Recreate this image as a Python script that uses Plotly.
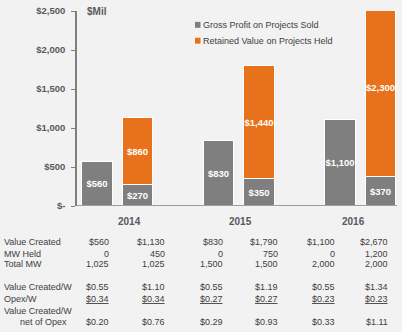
import plotly.graph_objects as go

years = ["2014", "2015", "2016"]
gross_sold = [560, 830, 1100]
gross_held = [270, 350, 370]
retained = [860, 1440, 2300]

y_ticks = [0, 500, 1000, 1500, 2000, 2500]
y_tick_labels = ["$-", "$500", "$1,000", "$1,500", "$2,000", "$2,500"]

row_labels = ["Value Created", "MW Held", "Total MW", "Value Created/W", "Opex/W", "Value Created/W", "net of Opex"]
value_created = ["$560", "$1,130", "$830", "$1,790", "$1,100", "$2,670"]
mw_held = ["0", "450", "0", "750", "0", "1,200"]
total_mw = ["1,025", "1,025", "1,500", "1,500", "2,000", "2,000"]
vc_per_w = ["$0.55", "$1.10", "$0.55", "$1.19", "$0.55", "$1.34"]
opex_per_w = ["$0.34", "$0.34", "$0.27", "$0.27", "$0.23", "$0.23"]
net_of_opex = ["$0.20", "$0.76", "$0.29", "$0.93", "$0.33", "$1.11"]

GRAY = "#7f7f7f"
ORANGE = "#e8711c"
TXT = "#404040"
FONT = "Liberation Sans, Arial, sans-serif"

W, H = 402, 332
L, R, T, B = 77, 5, 9, 126
PW = W - L - R
PH = H - T - B

def px_x(px):
    return (px - L) / PW

def px_y(py):
    return (H - B - py) / PH

gx = [3 * i for i in range(len(years))]
x_sold = [g - 0.5 for g in gx]
x_held = [g + 0.5 for g in gx]

def money(v):
    return "$" + format(v, ",")

label_font = dict(color="white", size=9.5, family=FONT, weight="bold")

fig = go.Figure()
fig.add_trace(go.Bar(
    x=x_sold, y=gross_sold, name="Gross Profit on Projects Sold",
    marker=dict(color=GRAY, line=dict(color="white", width=1)), width=0.76,
    text=[money(v) for v in gross_sold], textposition="inside", insidetextanchor="middle",
    textfont=label_font, constraintext="none", textangle=0,
))
fig.add_trace(go.Bar(
    x=x_held, y=gross_held, name="Gross Profit on Projects Sold",
    marker=dict(color=GRAY, line=dict(color="white", width=1)), width=0.76,
    text=[money(v) for v in gross_held], textposition="inside", insidetextanchor="middle",
    textfont=label_font, constraintext="none", textangle=0,
))
fig.add_trace(go.Bar(
    x=x_held, y=retained, name="Retained Value on Projects Held",
    marker=dict(color=ORANGE, line=dict(color="white", width=1)), width=0.76,
    text=[money(v) for v in retained], textposition="inside", insidetextanchor="middle",
    textfont=label_font, constraintext="none", textangle=0,
))

fig.update_layout(
    width=W, height=H, margin=dict(l=L, r=R, t=T, b=B),
    paper_bgcolor="#f2f2f2", plot_bgcolor="#f2f2f2",
    barmode="stack", bargap=0,
    font=dict(family=FONT, color=TXT, size=9),
    showlegend=False,
    xaxis=dict(range=[-1.006, 6.895], showgrid=False, zeroline=False,
               showline=False, showticklabels=False, fixedrange=True),
    yaxis=dict(range=[0, 2500], tickvals=y_ticks,
               ticktext=["<b>" + t + "</b>" for t in y_tick_labels],
               showgrid=False, zeroline=False, showline=True, linecolor=GRAY, linewidth=1.5,
               ticks="outside", ticklen=4, tickcolor=GRAY,
               tickfont=dict(size=9.5, color="#595959"), ticklabelstandoff=4),
)

# x-axis baseline
fig.add_shape(type="line", xref="paper", yref="y", x0=0, x1=1, y0=0, y1=0,
              line=dict(color=GRAY, width=1.5))

# legend (drawn)
legend_items = [("Gross Profit on Projects Sold", GRAY), ("Retained Value on Projects Held", ORANGE)]
for k, (name, col) in enumerate(legend_items):
    cy = 23 + 16 * k
    fig.add_shape(type="rect", xref="paper", yref="paper",
                  x0=px_x(195), x1=px_x(200.5), y0=px_y(cy - 3), y1=px_y(cy + 3),
                  fillcolor=col, line=dict(width=0))
    fig.add_annotation(text=name, xref="paper", yref="paper", x=px_x(201), y=px_y(cy),
                       xanchor="left", yanchor="middle", showarrow=False,
                       font=dict(size=9, color=TXT))

# unit label
fig.add_annotation(text="<b>$Mil</b>", xref="paper", yref="paper", x=px_x(85), y=px_y(10),
                   xanchor="left", yanchor="middle", showarrow=False,
                   font=dict(size=10, color="#595959"))

# year labels
year_px = [129, 240, 353]
for yr, p in zip(years, year_px):
    fig.add_annotation(text="<b>" + yr + "</b>", xref="paper", yref="paper",
                       x=px_x(p), y=px_y(222), xanchor="center", yanchor="middle",
                       showarrow=False, font=dict(size=10, color="#595959"))

# table
col_right = [111, 167, 225, 280, 337, 390]
row_y = [242, 254, 265, 288, 300, 312, 323]
rows = [value_created, mw_held, total_mw, vc_per_w,
        ["<u>" + v + "</u>" for v in opex_per_w], None, net_of_opex]
for i, (lab, vals) in enumerate(zip(row_labels, rows)):
    lx = 18 if lab == "net of Opex" else 2
    fig.add_annotation(text=lab, xref="paper", yref="paper", x=px_x(lx), y=px_y(row_y[i]),
                       xanchor="left", yanchor="middle", showarrow=False,
                       font=dict(size=9, color=TXT))
    if vals is None:
        continue
    for v, cx in zip(vals, col_right):
        fig.add_annotation(text=v, xref="paper", yref="paper", x=px_x(cx), y=px_y(row_y[i]),
                           xanchor="right", yanchor="middle", showarrow=False,
                           font=dict(size=9, color=TXT))

fig.write_html("out.html")
